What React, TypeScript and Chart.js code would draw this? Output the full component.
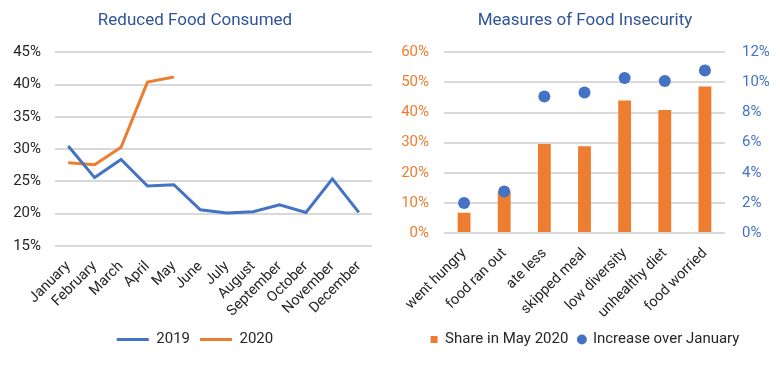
import React, { useEffect, useRef } from "react";
import { Chart, registerables } from "chart.js";
Chart.register(...registerables);

const months = ["January", "February", "March", "April", "May", "June", "July", "August", "September", "October", "November", "December"];
const reduced2019 = [30.5, 25.6, 28.4, 24.3, 24.5, 20.6, 20.1, 20.3, 21.4, 20.2, 25.4, 20.2];
const reduced2020 = [27.9, 27.6, 30.3, 40.4, 41.2, null, null, null, null, null, null, null];

const measures = ["went hungry", "food ran out", "ate less", "skipped meal", "low diversity", "unhealthy diet", "food worried"];
const shareMay2020 = [6.7, 13.8, 29.6, 28.8, 44.0, 40.9, 48.7];
const increaseOverJanuary = [2.0, 2.75, 9.07, 9.33, 10.3, 10.1, 10.8];

const BLUE = "#4472C4";
const ORANGE = "#ED7D31";
const TITLE = "#2F5597";
const TEXT = "#262626";
const GRID = "#D9D9D9";

export default function App() {
  const leftRef = useRef<HTMLCanvasElement>(null);
  const rightRef = useRef<HTMLCanvasElement>(null);

  useEffect(() => {
    document.body.style.margin = "0";
    Chart.defaults.font.family = "Roboto";

    const left = new Chart(leftRef.current!, {
      type: "line",
      data: {
        labels: months,
        datasets: [
          { label: "2019", data: reduced2019, borderColor: BLUE, backgroundColor: BLUE, borderWidth: 3, pointRadius: 0, tension: 0 },
          { label: "2020", data: reduced2020, borderColor: ORANGE, backgroundColor: ORANGE, borderWidth: 3, pointRadius: 0, tension: 0 },
        ],
      },
      options: {
        responsive: false,
        animation: false,
        layout: { padding: { left: 0, right: 0, top: 0, bottom: 14 } },
        plugins: {
          title: { display: true, text: "Reduced Food Consumed", color: TITLE, font: { size: 17, weight: "normal" }, padding: { top: 11, bottom: 21 } },
          legend: {
            position: "bottom",
            labels: { usePointStyle: true, pointStyle: "line", pointStyleWidth: 32, boxHeight: 15, font: { size: 15 }, color: TEXT, padding: 10 },
          },
          tooltip: { enabled: false },
        },
        scales: {
          x: {
            offset: true,
            grid: { display: false },
            border: { display: false },
            ticks: { minRotation: 45, maxRotation: 45, autoSkip: false, font: { size: 14.5 }, color: TEXT, padding: 4 },
            afterFit: (s: any) => { s.height = 76; },
          },
          y: {
            min: 15,
            max: 45,
            ticks: { stepSize: 5, callback: (v: any) => v + "%", font: { size: 15 }, color: TEXT, padding: 14 },
            grid: { color: GRID, lineWidth: 2, drawTicks: false },
            border: { display: false },
            afterFit: (s: any) => { s.width = 55; },
          },
          spacer: {
            type: "linear",
            position: "right",
            display: true,
            ticks: { display: false },
            grid: { display: false, drawTicks: false },
            border: { display: false },
            afterFit: (s: any) => { s.width = 18; },
          },
        },
      } as any,
    });

    const right = new Chart(rightRef.current!, {
      type: "bar",
      data: {
        labels: measures,
        datasets: [
          { type: "bar", label: "Share in May 2020", data: shareMay2020, backgroundColor: ORANGE, yAxisID: "y", barPercentage: 0.32, categoryPercentage: 1, order: 2 },
          { type: "line", label: "Increase over January", data: increaseOverJanuary, yAxisID: "y1", showLine: false, pointRadius: 6, pointBorderWidth: 0, pointBackgroundColor: BLUE, backgroundColor: BLUE, borderColor: BLUE, order: 1 },
        ] as any,
      },
      options: {
        responsive: false,
        animation: false,
        layout: { padding: { left: 0, right: 0, top: 0, bottom: 14 } },
        plugins: {
          title: { display: true, text: "Measures of Food Insecurity", color: TITLE, font: { size: 17, weight: "normal" }, padding: { top: 11, bottom: 21 } },
          legend: {
            position: "bottom",
            labels: {
              usePointStyle: true,
              boxHeight: 7,
              boxWidth: 7,
              font: { size: 15 },
              color: TEXT,
              padding: 10,
              sort: (a: any, b: any) => a.datasetIndex - b.datasetIndex,
              generateLabels: (chart: any) =>
                (Chart.defaults.plugins.legend.labels as any).generateLabels(chart).map((l: any) => ({
                  ...l,
                  pointStyle: l.datasetIndex === 0 ? "rect" : "circle",
                  fillStyle: l.datasetIndex === 0 ? ORANGE : BLUE,
                  lineWidth: 0,
                  strokeStyle: "rgba(0,0,0,0)",
                })),
            },
          },
          tooltip: { enabled: false },
        },
        scales: {
          x: {
            grid: { display: false },
            border: { display: false },
            ticks: { minRotation: 45, maxRotation: 45, autoSkip: false, font: { size: 14.5 }, color: TEXT, padding: 4 },
            afterFit: (s: any) => { s.height = 89; },
          },
          y: {
            position: "left",
            min: 0,
            max: 60,
            ticks: { stepSize: 10, callback: (v: any) => v + "%", font: { size: 15 }, color: ORANGE, padding: 15 },
            grid: { color: GRID, lineWidth: 2, drawTicks: false },
            border: { display: false },
            afterFit: (s: any) => { s.width = 54; },
          },
          y1: {
            position: "right",
            min: 0,
            max: 12,
            ticks: { stepSize: 2, callback: (v: any) => v + "%", font: { size: 15 }, color: BLUE, padding: 17 },
            grid: { display: false, drawTicks: false },
            border: { display: false },
            afterFit: (s: any) => { s.width = 55; },
          },
        },
      } as any,
    });

    return () => {
      left.destroy();
      right.destroy();
    };
  }, []);

  return (
    <div style={{ position: "relative", width: 780, height: 371, background: "#fff" }}>
      <canvas ref={leftRef} width={390} height={371} style={{ position: "absolute", left: 0, top: 0 }} />
      <canvas ref={rightRef} width={390} height={371} style={{ position: "absolute", left: 390, top: 0 }} />
    </div>
  );
}
